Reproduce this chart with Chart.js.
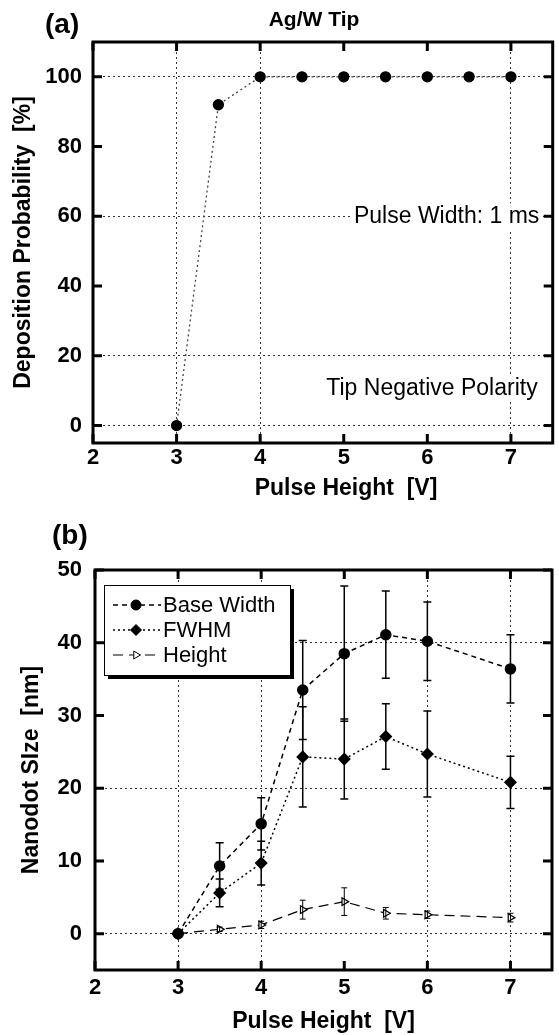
<!DOCTYPE html>
<html>
<head>
<meta charset="utf-8">
<script src="https://cdn.jsdelivr.net/npm/chart.js@4.4.1/dist/chart.umd.min.js"></script>
<style>
  html, body { margin: 0; padding: 0; background: #fff; }
  .wrap { position: relative; width: 559px; }
</style>
</head>
<body>
<div class="wrap" style="height:510px"><canvas id="chartA"></canvas></div>
<div class="wrap" style="height:525px"><canvas id="chartB"></canvas></div>
<script>
// (a) deposition probability vs pulse height
const pulseA = [3, 3.5, 4, 4.5, 5, 5.5, 6, 6.5, 7];
const probability = [0, 92, 100, 100, 100, 100, 100, 100, 100];

// (b) nanodot size vs pulse height
const pulseB = [3, 3.5, 4, 4.5, 5, 5.5, 6, 7];
const baseWidth = [0, 9.3, 15.1, 33.5, 38.5, 41.1, 40.2, 36.4];
const baseWidthErr = [0, 3.2, 3.6, 6.8, 9.3, 6.0, 5.4, 4.7];
const fwhm = [0, 5.6, 9.7, 24.3, 24.0, 27.1, 24.7, 20.8];
const fwhmErr = [0, 1.9, 3.0, 6.9, 5.5, 4.5, 5.9, 3.6];
const dotHeight = [0, 0.6, 1.2, 3.3, 4.4, 2.8, 2.6, 2.2];
const dotHeightErr = [0, 0.3, 0.5, 1.3, 1.9, 0.8, 0.5, 0.6];

// which ticks get a dotted grid line
const gridXA = [3, 4, 7];
const gridYA = [0, 20, 60, 100];
const gridXB = [3, 4, 6, 7];
const gridYB = [0, 20, 40];

const FONT = "'Liberation Sans', Arial, Helvetica, sans-serif";
Chart.defaults.font.family = FONT;
Chart.defaults.color = '#000';

const toXY = (xs, ys) => xs.map((v, i) => ({ x: v, y: ys[i] }));
const gridColor = list => ctx => (ctx.tick && list.includes(ctx.tick.value)) ? '#333' : 'rgba(0,0,0,0)';

// frame with inward ticks, texts, error bars, legend box
const extras = {
  id: 'extras',
  afterDatasetsDraw(chart) {
    const { ctx, scales: { x, y } } = chart;
    chart.data.datasets.forEach(ds => {
      if (!ds.errors) return;
      ctx.save();
      ctx.strokeStyle = '#000';
      ctx.lineWidth = ds.errWidth;
      ds.data.forEach((p, j) => {
        const e = ds.errors[j];
        if (!e) return;
        const px = x.getPixelForValue(p.x);
        const hi = y.getPixelForValue(p.y + e);
        const lo = y.getPixelForValue(p.y - e);
        const c = ds.capHalf;
        ctx.beginPath();
        ctx.moveTo(px, hi); ctx.lineTo(px, lo);
        ctx.moveTo(px - c, hi); ctx.lineTo(px + c, hi);
        ctx.moveTo(px - c, lo); ctx.lineTo(px + c, lo);
        ctx.stroke();
      });
      ctx.restore();
    });
  },
  afterDraw(chart, args, opts) {
    const { ctx, chartArea: a, scales: { x, y } } = chart;
    ctx.save();

    // notes placed at data coordinates
    (opts.notes || []).forEach(n => {
      ctx.font = '23px ' + FONT;
      ctx.textAlign = 'right';
      ctx.textBaseline = 'middle';
      const px = x.getPixelForValue(n.x), py = y.getPixelForValue(n.y);
      const w = ctx.measureText(n.text).width;
      ctx.fillStyle = '#fff';
      ctx.fillRect(px - w - 3, py - 13, w + 6, 26);
      ctx.fillStyle = '#000';
      ctx.fillText(n.text, px, py);
    });

    // headers in canvas pixels
    (opts.headers || []).forEach(h => {
      ctx.font = h.font;
      ctx.textAlign = h.align;
      ctx.textBaseline = 'middle';
      ctx.fillStyle = '#000';
      ctx.fillText(h.text, h.x, h.y);
    });

    // legend box
    if (opts.legend) {
      const L = opts.legend;
      const bx = a.left + L.dx, by = a.top + L.dy;
      ctx.fillStyle = '#000';
      ctx.fillRect(bx + 4, by + 4, L.w, L.h);
      ctx.fillStyle = '#fff';
      ctx.fillRect(bx, by, L.w, L.h);
      ctx.strokeStyle = '#000';
      ctx.lineWidth = 1;
      ctx.strokeRect(bx + 0.5, by + 0.5, L.w, L.h);
      chart.data.datasets.forEach((ds, i) => {
        const ly = by + 20 + i * 25;
        ctx.save();
        ctx.strokeStyle = ds.borderColor;
        ctx.lineWidth = ds.borderWidth;
        ctx.setLineDash(ds.borderDash || []);
        ctx.beginPath();
        ctx.moveTo(bx + 9, ly); ctx.lineTo(bx + 57, ly);
        ctx.stroke();
        ctx.setLineDash([]);
        ctx.fillStyle = ds.pointBackgroundColor;
        ctx.strokeStyle = ds.pointBorderColor;
        ctx.lineWidth = 1;
        Chart.helpers.drawPoint(ctx, {
          pointStyle: ds.pointStyle, rotation: ds.pointRotation || 0,
          radius: ds.pointRadius, borderWidth: 1
        }, bx + 32, ly);
        ctx.restore();
        ctx.font = '22px ' + FONT;
        ctx.fillStyle = '#000';
        ctx.textAlign = 'left';
        ctx.textBaseline = 'middle';
        ctx.fillText(ds.label, bx + 59, ly + 1);
      });
    }

    // frame and inward tick marks
    ctx.strokeStyle = '#000';
    ctx.lineWidth = 3;
    ctx.setLineDash([]);
    ctx.beginPath();
    x.ticks.forEach(t => {
      const px = x.getPixelForValue(t.value);
      ctx.moveTo(px, a.bottom); ctx.lineTo(px, a.bottom - 9);
      ctx.moveTo(px, a.top); ctx.lineTo(px, a.top + 9);
    });
    y.ticks.forEach(t => {
      const py = y.getPixelForValue(t.value);
      ctx.moveTo(a.left, py); ctx.lineTo(a.left + 9, py);
      ctx.moveTo(a.right, py); ctx.lineTo(a.right - 9, py);
    });
    ctx.stroke();
    ctx.strokeRect(a.left, a.top, a.right - a.left, a.bottom - a.top);
    ctx.restore();
  }
};

function xAxis(grid, pad, titlePad, h, showTitle) {
  return {
    type: 'linear', min: 2, max: 7.5,
    ticks: { stepSize: 1, includeBounds: false, padding: pad, font: { size: 22, weight: 'bold' } },
    grid: { drawTicks: false, color: gridColor(grid), lineWidth: 1 },
    border: { display: false, dash: [2, 3] },
    title: { display: showTitle, text: 'Pulse Height  [V]', font: { size: 23, weight: 'bold' }, padding: titlePad },
    afterFit: s => { s.height = h; }
  };
}

// ---------- (a) ----------
new Chart(document.getElementById('chartA'), {
  type: 'line',
  data: {
    datasets: [{
      label: 'Probability',
      data: toXY(pulseA, probability),
      borderColor: '#444',
      borderWidth: 1.3,
      borderDash: [2, 3],
      pointRadius: 5,
      pointBackgroundColor: '#000',
      pointBorderColor: '#000',
      tension: 0
    }]
  },
  options: {
    responsive: true,
    maintainAspectRatio: false,
    animation: false,
    layout: { padding: { top: 42, right: 1, left: 0, bottom: 0 } },
    scales: {
      x: xAxis(gridXA, 2, 8, 67, false),
      y: {
        min: -5, max: 110,
        ticks: { stepSize: 20, includeBounds: false, padding: 11, font: { size: 22, weight: 'bold' } },
        grid: { drawTicks: false, color: gridColor(gridYA), lineWidth: 1 },
        border: { display: false, dash: [2, 3] },
        title: { display: true, text: 'Deposition Probability  [%]', font: { size: 23, weight: 'bold' }, padding: 10 },
        afterFit: s => { s.width = 93; }
      }
    },
    plugins: {
      legend: { display: false },
      tooltip: { enabled: false },
      extras: {
        notes: [
          { text: 'Pulse Width: 1 ms', x: 7.34, y: 60 },
          { text: 'Tip Negative Polarity', x: 7.32, y: 10.6 }
        ],
        headers: [
          { text: '(a)', x: 45, y: 25, align: 'left', font: 'bold 28px ' + FONT },
          { text: 'Ag/W Tip', x: 314, y: 20, align: 'center', font: 'bold 21px ' + FONT },
          { text: 'Pulse Height  [V]', x: 346, y: 489, align: 'center', font: 'bold 23px ' + FONT }
        ]
      }
    }
  },
  plugins: [extras]
});

// ---------- (b) ----------
new Chart(document.getElementById('chartB'), {
  type: 'line',
  data: {
    datasets: [{
      label: 'Base Width',
      data: toXY(pulseB, baseWidth),
      errors: baseWidthErr, errWidth: 1.5, capHalf: 4,
      borderColor: '#000', borderWidth: 1.5, borderDash: [5, 4],
      pointStyle: 'circle', pointRadius: 5,
      pointBackgroundColor: '#000', pointBorderColor: '#000'
    }, {
      label: 'FWHM',
      data: toXY(pulseB, fwhm),
      errors: fwhmErr, errWidth: 1.5, capHalf: 4,
      borderColor: '#000', borderWidth: 1.5, borderDash: [2, 3],
      pointStyle: 'rectRot', pointRadius: 5.5,
      pointBackgroundColor: '#000', pointBorderColor: '#000'
    }, {
      label: 'Height',
      data: toXY(pulseB, dotHeight),
      errors: dotHeightErr, errWidth: 1, capHalf: 3,
      borderColor: '#000', borderWidth: 1.2, borderDash: [10, 6],
      pointStyle: 'triangle', pointRotation: 90, pointRadius: 4.5,
      pointBackgroundColor: '#fff', pointBorderColor: '#000'
    }]
  },
  options: {
    responsive: true,
    maintainAspectRatio: false,
    animation: false,
    layout: { padding: { top: 60, right: 1, left: 0, bottom: 0 } },
    scales: {
      x: xAxis(gridXB, 5, 0, 65, true),
      y: {
        min: -5, max: 50,
        ticks: { stepSize: 10, includeBounds: false, padding: 13, font: { size: 22, weight: 'bold' } },
        grid: { drawTicks: false, color: gridColor(gridYB), lineWidth: 1 },
        border: { display: false, dash: [2, 3] },
        title: { display: true, text: 'Nanodot SIze  [nm]', font: { size: 23, weight: 'bold' }, padding: 18 },
        afterFit: s => { s.width = 95; }
      }
    },
    plugins: {
      legend: { display: false },
      tooltip: { enabled: false },
      extras: {
        legend: { dx: 9, dy: 15, w: 186, h: 90 },
        headers: [
          { text: '(b)', x: 52, y: 26, align: 'left', font: 'bold 28px ' + FONT }
        ]
      }
    }
  },
  plugins: [extras]
});
</script>
</body>
</html>
